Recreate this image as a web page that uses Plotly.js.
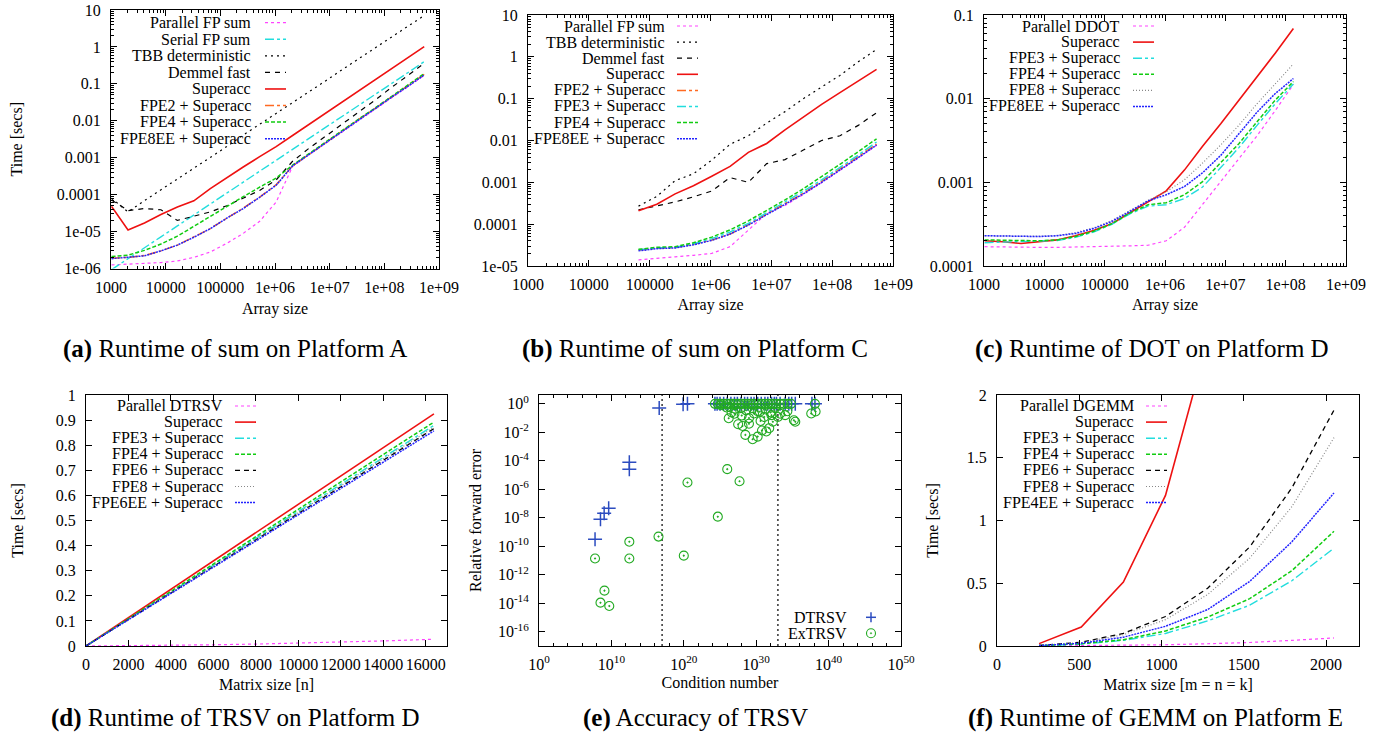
<!DOCTYPE html>
<html>
<head>
<meta charset="utf-8">
<script src="https://cdn.plot.ly/plotly-3.0.1.min.js"></script>
<style>
html,body{margin:0;padding:0;background:#fff;}
#chart{width:1394px;height:741px;}
</style>
</head>
<body>
<div id="chart"></div>
<script>
// ================= DATA =================
// (a) Runtime of sum on Platform A
const aSizes = [1024, 2048, 4096, 8192, 16384, 32768, 65536, 131072, 262144, 524288, 1048576, 2097152, 4194304, 8388608, 16777216, 33554432, 67108864, 134217728, 268435456, 536870912];
const aParallel = [1.25e-6, 1.3e-6, 1.35e-6, 1.45e-6, 1.6e-6, 2.0e-6, 2.8e-6, 4.8e-6, 8.9e-6, 1.9e-5, 6.3e-5, 5.8e-4, 1.2e-3, 2.45e-3, 5.0e-3, 1.03e-2, 2.05e-2, 4.2e-2, 8.4e-2, 0.17];
const aSerial = [9.3e-7, 1.87e-6, 3.7e-6, 7.2e-6, 1.42e-5, 2.8e-5, 5.6e-5, 1.1e-4, 2.2e-4, 4.3e-4, 8.5e-4, 1.7e-3, 3.4e-3, 6.6e-3, 1.3e-2, 2.6e-2, 5.1e-2, 0.10, 0.20, 0.40];
const aTBB = [8.0e-5, 3.4e-5, 6.9e-5, 1.35e-4, 2.7e-4, 5.3e-4, 1.05e-3, 2.0e-3, 4.1e-3, 8.0e-3, 1.6e-2, 3.1e-2, 6.2e-2, 0.12, 0.24, 0.47, 0.93, 1.8, 3.6, 7.1];
const aDemmel = [7.2e-5, 3.7e-5, 4.2e-5, 3.9e-5, 2.0e-5, 2.6e-5, 3.4e-5, 5.0e-5, 8.0e-5, 1.3e-4, 2.5e-4, 8.0e-4, 1.8e-3, 3.8e-3, 7.9e-3, 1.7e-2, 3.6e-2, 7.9e-2, 0.17, 0.36];
const aSuperacc = [4.8e-5, 1.1e-5, 1.7e-5, 2.9e-5, 4.6e-5, 6.8e-5, 1.45e-4, 2.9e-4, 5.6e-4, 1.07e-3, 2.0e-3, 4.0e-3, 8.0e-3, 1.6e-2, 3.2e-2, 6.3e-2, 0.126, 0.25, 0.5, 1.02];
const aFPE2 = [1.9e-6, 2.0e-6, 2.25e-6, 3.0e-6, 4.3e-6, 7.0e-6, 1.2e-5, 2.3e-5, 4.3e-5, 8.6e-5, 1.85e-4, 6.0e-4, 1.25e-3, 2.55e-3, 5.2e-3, 1.07e-2, 2.15e-2, 4.4e-2, 8.8e-2, 0.18];
const aFPE4 = [2.1e-6, 2.3e-6, 3.1e-6, 4.6e-6, 7.5e-6, 1.4e-5, 2.6e-5, 4.8e-5, 8.8e-5, 1.6e-4, 2.8e-4, 6.3e-4, 1.3e-3, 2.6e-3, 5.4e-3, 1.1e-2, 2.2e-2, 4.6e-2, 9.3e-2, 0.19];
const aFPE8EE = [1.85e-6, 2.0e-6, 2.2e-6, 3.0e-6, 4.3e-6, 7.0e-6, 1.2e-5, 2.3e-5, 4.2e-5, 8.5e-5, 1.8e-4, 6.0e-4, 1.23e-3, 2.5e-3, 5.1e-3, 1.05e-2, 2.1e-2, 4.3e-2, 8.5e-2, 0.174];

// (b) Runtime of sum on Platform C
const bSizes = [65536, 131072, 262144, 524288, 1048576, 2097152, 4194304, 8388608, 16777216, 33554432, 67108864, 134217728, 268435456, 536870912];
const bParallel = [1.4e-5, 1.5e-5, 1.65e-5, 1.8e-5, 2.0e-5, 2.9e-5, 7.2e-5, 1.8e-4, 2.8e-4, 5.1e-4, 9.8e-4, 1.9e-3, 3.8e-3, 7.7e-3];
const bTBB = [2.7e-4, 4.6e-4, 1.1e-3, 1.6e-3, 3.4e-3, 8.1e-3, 1.3e-2, 2.6e-2, 4.9e-2, 0.1, 0.19, 0.36, 0.76, 1.5];
const bDemmel = [2.2e-4, 2.7e-4, 3.4e-4, 4.5e-4, 6.2e-4, 1.3e-3, 1.0e-3, 2.8e-3, 3.5e-3, 5.9e-3, 1.0e-2, 1.3e-2, 2.3e-2, 4.6e-2];
const bSuperacc = [2.1e-4, 3.0e-4, 5.3e-4, 8.3e-4, 1.4e-3, 2.4e-3, 5.2e-3, 8.5e-3, 1.8e-2, 3.7e-2, 7.3e-2, 0.14, 0.26, 0.50];
const bFPE2 = [2.4e-5, 2.65e-5, 2.75e-5, 3.3e-5, 4.2e-5, 5.8e-5, 9.8e-5, 1.75e-4, 3.0e-4, 5.5e-4, 1.05e-3, 2.05e-3, 4.1e-3, 8.2e-3];
const bFPE3 = [2.45e-5, 2.7e-5, 2.8e-5, 3.4e-5, 4.5e-5, 6.5e-5, 1.05e-4, 1.9e-4, 3.3e-4, 6.1e-4, 1.15e-3, 2.25e-3, 4.5e-3, 9.2e-3];
const bFPE4 = [2.5e-5, 2.8e-5, 2.9e-5, 3.6e-5, 4.9e-5, 7.3e-5, 1.2e-4, 2.1e-4, 3.8e-4, 7.0e-4, 1.35e-3, 2.7e-3, 5.4e-3, 1.1e-2];
const bFPE8EE = [2.3e-5, 2.6e-5, 2.7e-5, 3.2e-5, 4.1e-5, 5.8e-5, 9.5e-5, 1.7e-4, 2.9e-4, 5.3e-4, 1.0e-3, 1.95e-3, 3.9e-3, 7.8e-3];

// (c) Runtime of DOT on Platform D
const cSizes = [1024, 2048, 4096, 8192, 16384, 32768, 65536, 131072, 262144, 524288, 1048576, 2097152, 4194304, 8388608, 16777216, 33554432, 67108864, 134217728];
const cParallel = [1.7e-4, 1.68e-4, 1.67e-4, 1.67e-4, 1.67e-4, 1.68e-4, 1.7e-4, 1.72e-4, 1.74e-4, 1.77e-4, 2.0e-4, 2.9e-4, 5.4e-4, 1.02e-3, 1.9e-3, 3.6e-3, 7.2e-3, 1.48e-2];
const cSuperacc = [2.0e-4, 1.95e-4, 1.86e-4, 1.95e-4, 2.05e-4, 2.3e-4, 2.65e-4, 3.2e-4, 4.3e-4, 5.9e-4, 7.9e-4, 1.4e-3, 2.7e-3, 5.0e-3, 9.5e-3, 1.8e-2, 3.5e-2, 6.9e-2];
const cFPE3 = [1.9e-4, 1.92e-4, 1.95e-4, 1.97e-4, 2.02e-4, 2.2e-4, 2.55e-4, 3.15e-4, 4.2e-4, 5.2e-4, 5.4e-4, 6.4e-4, 8.8e-4, 1.5e-3, 2.6e-3, 4.8e-3, 8.7e-3, 1.5e-2];
const cFPE4 = [2.05e-4, 2.02e-4, 2.0e-4, 2.0e-4, 2.05e-4, 2.25e-4, 2.6e-4, 3.2e-4, 4.3e-4, 5.4e-4, 5.7e-4, 7.1e-4, 1.02e-3, 1.7e-3, 2.9e-3, 5.3e-3, 9.6e-3, 1.6e-2];
const cFPE8 = [2.3e-4, 2.28e-4, 2.25e-4, 2.27e-4, 2.32e-4, 2.5e-4, 2.85e-4, 3.5e-4, 4.6e-4, 6.1e-4, 7.7e-4, 1.07e-3, 1.7e-3, 2.8e-3, 4.8e-3, 8.7e-3, 1.5e-2, 2.6e-2];
const cFPE8EE = [2.3e-4, 2.28e-4, 2.25e-4, 2.25e-4, 2.3e-4, 2.45e-4, 2.8e-4, 3.4e-4, 4.5e-4, 6.0e-4, 7.1e-4, 8.9e-4, 1.3e-3, 2.1e-3, 3.8e-3, 6.9e-3, 1.15e-2, 1.74e-2];

// (d) Runtime of TRSV on Platform D
const dSizes = [0, 2048, 4096, 6144, 8192, 10240, 12288, 14336, 16384];
const dParallel = [0, 0.001, 0.003, 0.005, 0.008, 0.012, 0.016, 0.021, 0.027];
const dSuperacc = [0, 0.116, 0.231, 0.347, 0.463, 0.578, 0.694, 0.810, 0.925];
const dFPE3 = [0, 0.110, 0.220, 0.330, 0.440, 0.549, 0.659, 0.769, 0.879];
const dFPE4 = [0, 0.112, 0.223, 0.335, 0.446, 0.558, 0.669, 0.781, 0.892];
const dFPE6 = [0, 0.108, 0.217, 0.325, 0.433, 0.541, 0.650, 0.758, 0.866];
const dFPE8 = [0, 0.109, 0.218, 0.327, 0.436, 0.545, 0.654, 0.763, 0.872];
const dFPE6EE = [0, 0.107, 0.214, 0.321, 0.428, 0.536, 0.643, 0.750, 0.857];

// (e) Accuracy of TRSV
const eDtrsvCond = [5.5e7, 3.1e8, 1.0e9, 4.2e9, 3.0e12, 3.0e12, 4.0e16, 8.0e19, 3.2e20, 2.0e24, 4.0e24, 1.0e25, 3.2e25, 1.0e26, 3.2e26, 1.0e27, 2.5e27, 8.0e27, 2.5e28, 6.3e28, 2.0e29, 5.0e29, 1.6e30, 5.0e30, 1.6e31, 4.0e31, 1.3e32, 3.2e32, 6.3e32, 2.0e33, 1.0e34, 3.2e34, 8.0e34, 2.5e35, 5.0e37, 1.3e38];
const eDtrsvErr = [3.1e-10, 7.9e-9, 2.1e-8, 4.7e-8, 7.9e-5, 2.6e-5, 0.5, 0.95, 1.0, 1.0, 1.0, 1.0, 1.0, 1.0, 1.0, 1.0, 1.0, 1.0, 1.0, 1.0, 1.0, 1.0, 1.0, 1.0, 1.0, 1.0, 1.0, 1.0, 1.0, 1.0, 1.0, 1.0, 1.0, 1.0, 1.0, 1.0];
const eExCond = [5.5e7, 1.1e9, 3.1e8, 5.1e9, 3.0e12, 3.0e12, 3.2e16, 1.0e20, 3.2e20, 5.0e24, 1.0e26, 5.0e27,
  2e24, 5e24, 1.3e25, 3.2e25, 8e25, 2e26, 6.3e26, 1.6e27, 4e27, 1e28, 2.5e28, 6.3e28, 1.6e29, 4e29, 1e30, 2.5e30, 6.3e30, 1.6e31, 4e31, 1e32, 2.5e32, 6.3e32, 2e33, 6.3e33, 2e34, 6.3e34, 1.3e38,
  1.3e25, 8e25, 2e26, 4e26, 1.3e27, 8e27, 4e28, 1e29, 3.2e29, 5e29, 1.6e30, 3.2e30, 4e30, 1.3e31, 2e31, 2.5e31, 6.3e31, 1e32, 1.3e32, 2e32, 4e32, 1e33, 2e33, 1e34, 2e34, 1.6e35, 2.5e35, 4e37, 1.6e38,
  1.6e26, 3.2e27, 1.3e28, 3.2e28, 3.2e29, 1.6e30, 6.3e30, 1e29, 1e28, 1e27];
const eExErr = [1.4e-11, 7.7e-14, 1.1e-14, 6.4e-15, 2.1e-10, 1.4e-11, 4.8e-10, 2.2e-11, 3.0e-6, 1.2e-8, 2.6e-5, 3.7e-6,
  1, 1, 1, 1, 1, 1, 1, 1, 1, 1, 1, 1, 1, 1, 1, 1, 1, 1, 1, 1, 1, 1, 1, 1, 1, 1, 1,
  0.8, 0.55, 0.6, 0.25, 0.45, 0.5, 0.35, 0.1, 0.5, 0.21, 0.3, 0.28, 0.063, 0.12, 0.4, 0.0115, 0.0195, 0.25, 0.16, 0.055, 0.5, 0.12, 0.2, 0.16, 0.3, 0.07, 0.055, 0.21, 0.29,
  0.098, 0.037, 0.028, 0.0066, 0.0033, 0.005, 0.0135, 0.04, 0.15, 0.2];
const eThresholds = [1e17, 1e33];

// (f) Runtime of GEMM on Platform E
const fSizes = [256, 512, 768, 1024, 1280, 1536, 1792, 2048];
const fParallel = [0.0005, 0.002, 0.005, 0.010, 0.018, 0.028, 0.045, 0.064];
const fSuperacc = [0.019, 0.151, 0.51, 1.20, 2.43];
const fFPE3 = [0.002, 0.015, 0.045, 0.10, 0.20, 0.325, 0.52, 0.78];
const fFPE4 = [0.003, 0.018, 0.05, 0.12, 0.23, 0.377, 0.60, 0.914];
const fFPE6 = [0.004, 0.03, 0.10, 0.235, 0.46, 0.79, 1.26, 1.88];
const fFPE8 = [0.004, 0.027, 0.09, 0.21, 0.41, 0.70, 1.11, 1.66];
const fFPE4EE = [0.003, 0.022, 0.07, 0.157, 0.29, 0.515, 0.83, 1.22];

// tick labels
const sizeTickVals = [1e3, 1e4, 1e5, 1e6, 1e7, 1e8, 1e9];
const sizeTickText = ['1000', '10000', '100000', '1e+06', '1e+07', '1e+08', '1e+09'];
const aTimeTickVals = [1e-6, 1e-5, 1e-4, 1e-3, 1e-2, 1e-1, 1, 10];
const aTimeTickText = ['1e-06', '1e-05', '0.0001', '0.001', '0.01', '0.1', '1', '10'];
const bTimeTickVals = [1e-5, 1e-4, 1e-3, 1e-2, 1e-1, 1, 10];
const bTimeTickText = ['1e-05', '0.0001', '0.001', '0.01', '0.1', '1', '10'];
const cTimeTickVals = [1e-4, 1e-3, 1e-2, 1e-1];
const cTimeTickText = ['0.0001', '0.001', '0.01', '0.1'];
const eCondTickVals = [1, 1e10, 1e20, 1e30, 1e40, 1e50];
const eCondTickText = ['10<sup>0</sup>', '10<sup>10</sup>', '10<sup>20</sup>', '10<sup>30</sup>', '10<sup>40</sup>', '10<sup>50</sup>'];
const eErrTickVals = [1e-16, 1e-14, 1e-12, 1e-10, 1e-8, 1e-6, 1e-4, 1e-2, 1];
const eErrTickText = ['10<sup>-16</sup>', '10<sup>-14</sup>', '10<sup>-12</sup>', '10<sup>-10</sup>', '10<sup>-8</sup>', '10<sup>-6</sup>', '10<sup>-4</sup>', '10<sup>-2</sup>', '10<sup>0</sup>'];
const eYRange = [-17, 0.62];

// ================= STYLE / LAYOUT =================
const W = 1394, H = 741;
const fx = p => p / W;
const fy = p => 1 - p / H;
const FONT = 'Liberation Serif';

const ST = {
  parallel: {color: '#ff44ff', width: 1.2, dash: 'dot'},
  serial:   {color: '#22dddd', width: 1.4, dash: 'dashdot'},
  tbb:      {color: '#000000', width: 1.2, dash: '2px,4px'},
  demmel:   {color: '#000000', width: 1.2, dash: '5px,5px'},
  superacc: {color: '#ee1111', width: 1.6, dash: 'solid'},
  fpe2:     {color: '#ff6a22', width: 1.5, dash: 'dashdot'},
  fpe3:     {color: '#22dddd', width: 1.4, dash: 'dashdot'},
  fpe4:     {color: '#11cc11', width: 1.5, dash: '4px,2px'},
  fpe6:     {color: '#000000', width: 1.3, dash: '5px,4px'},
  fpe8:     {color: '#888888', width: 1.2, dash: '1px,2px'},
  ee:       {color: '#2222ff', width: 1.5, dash: '2px,1px'}
};

const traces = [];
function addLine(n, name, x, y, st) {
  const s = n > 1 ? String(n) : '';
  traces.push({type: 'scatter', mode: 'lines', name: name, x: x, y: y,
    xaxis: 'x' + s, yaxis: 'y' + s, showlegend: false, hoverinfo: 'skip',
    line: {color: st.color, width: st.width, dash: st.dash}});
}

// (a)
const legA = [
  ['Parallel FP sum', aParallel, ST.parallel], ['Serial FP sum', aSerial, ST.serial],
  ['TBB deterministic', aTBB, ST.tbb], ['Demmel fast', aDemmel, ST.demmel],
  ['Superacc', aSuperacc, ST.superacc], ['FPE2 + Superacc', aFPE2, ST.fpe2],
  ['FPE4 + Superacc', aFPE4, ST.fpe4], ['FPE8EE + Superacc', aFPE8EE, ST.ee]];
legA.forEach(e => addLine(1, e[0], aSizes, e[1], e[2]));
// (b)
const legB = [
  ['Parallel FP sum', bParallel, ST.parallel], ['TBB deterministic', bTBB, ST.tbb],
  ['Demmel fast', bDemmel, ST.demmel], ['Superacc', bSuperacc, ST.superacc],
  ['FPE2 + Superacc', bFPE2, ST.fpe2], ['FPE3 + Superacc', bFPE3, ST.fpe3],
  ['FPE4 + Superacc', bFPE4, ST.fpe4], ['FPE8EE + Superacc', bFPE8EE, ST.ee]];
legB.forEach(e => addLine(2, e[0], bSizes, e[1], e[2]));
// (c)
const legC = [
  ['Parallel DDOT', cParallel, ST.parallel], ['Superacc', cSuperacc, ST.superacc],
  ['FPE3 + Superacc', cFPE3, ST.fpe3], ['FPE4 + Superacc', cFPE4, ST.fpe4],
  ['FPE8 + Superacc', cFPE8, ST.fpe8], ['FPE8EE + Superacc', cFPE8EE, ST.ee]];
legC.forEach(e => addLine(3, e[0], cSizes, e[1], e[2]));
// (d)
const legD = [
  ['Parallel DTRSV', dParallel, ST.parallel], ['Superacc', dSuperacc, ST.superacc],
  ['FPE3 + Superacc', dFPE3, ST.fpe3], ['FPE4 + Superacc', dFPE4, ST.fpe4],
  ['FPE6 + Superacc', dFPE6, ST.fpe6], ['FPE8 + Superacc', dFPE8, ST.fpe8],
  ['FPE6EE + Superacc', dFPE6EE, ST.ee]];
legD.forEach(e => addLine(4, e[0], dSizes, e[1], e[2]));
// (e)
eThresholds.forEach(t => traces.push({type: 'scatter', mode: 'lines', x: [t, t],
  y: [Math.pow(10, eYRange[0]), Math.pow(10, eYRange[1])], xaxis: 'x5', yaxis: 'y5',
  showlegend: false, hoverinfo: 'skip', line: {color: '#000', width: 1.2, dash: '2px,3px'}}));
traces.push({type: 'scatter', mode: 'markers', name: 'DTRSV', x: eDtrsvCond, y: eDtrsvErr,
  xaxis: 'x5', yaxis: 'y5', showlegend: false, hoverinfo: 'skip',
  marker: {symbol: 'cross-thin', size: 10, color: '#2c4cc0', line: {color: '#2c4cc0', width: 1.5}}});
traces.push({type: 'scatter', mode: 'markers', name: 'ExTRSV', x: eExCond, y: eExErr,
  xaxis: 'x5', yaxis: 'y5', showlegend: false, hoverinfo: 'skip',
  marker: {symbol: 'circle-open-dot', size: 9, color: '#22aa22', line: {color: '#22aa22', width: 1.1}}});
// (f)
const legF = [
  ['Parallel DGEMM', fParallel, ST.parallel], ['Superacc', fSuperacc, ST.superacc],
  ['FPE3 + Superacc', fFPE3, ST.fpe3], ['FPE4 + Superacc', fFPE4, ST.fpe4],
  ['FPE6 + Superacc', fFPE6, ST.fpe6], ['FPE8 + Superacc', fFPE8, ST.fpe8],
  ['FPE4EE + Superacc', fFPE4EE, ST.ee]];
legF.forEach(e => addLine(6, e[0], fSizes.slice(0, e[1].length), e[1], e[2]));

// axes
const minorLog = {ticks: 'inside', ticklen: 3, tickcolor: '#000', dtick: 'D1', showgrid: false};
function axis(opts, titleText, standoff) {
  const a = {
    showline: true, linecolor: '#000', linewidth: 1, mirror: 'allticks',
    ticks: 'inside', ticklen: 6, tickwidth: 1, tickcolor: '#000',
    showgrid: false, zeroline: false, fixedrange: true, automargin: false,
    tickfont: {family: FONT, size: 16, color: '#000'}
  };
  Object.assign(a, opts);
  if (titleText) a.title = {text: titleText, standoff: standoff, font: {family: FONT, size: 16, color: '#000'}};
  return a;
}

const layout = {
  width: W, height: H, margin: {l: 0, r: 0, t: 0, b: 0},
  paper_bgcolor: '#fff', plot_bgcolor: '#fff', showlegend: false,
  font: {family: FONT, size: 16, color: '#000'},
  xaxis: axis({domain: [fx(111), fx(439)], anchor: 'y', type: 'log', range: [3, 9], tickmode: 'array', tickvals: sizeTickVals, ticktext: sizeTickText, minor: minorLog, ticklabelstandoff: 4}, 'Array size', 8),
  yaxis: axis({domain: [fy(268.5), fy(10)], anchor: 'x', type: 'log', range: [-6, 1], tickmode: 'array', tickvals: aTimeTickVals, ticktext: aTimeTickText, minor: minorLog, ticklabelstandoff: 6}, 'Time [secs]', 30),
  xaxis2: axis({domain: [fx(528), fx(893)], anchor: 'y2', type: 'log', range: [3, 9], tickmode: 'array', tickvals: sizeTickVals, ticktext: sizeTickText, minor: minorLog, ticklabelstandoff: 4}, 'Array size', 6),
  yaxis2: axis({domain: [fy(266), fy(15)], anchor: 'x2', type: 'log', range: [-5, 1], tickmode: 'array', tickvals: bTimeTickVals, ticktext: bTimeTickText, minor: minorLog, ticklabelstandoff: 6}),
  xaxis3: axis({domain: [fx(984), fx(1346)], anchor: 'y3', type: 'log', range: [3, 9], tickmode: 'array', tickvals: sizeTickVals, ticktext: sizeTickText, minor: minorLog, ticklabelstandoff: 4}, 'Array size', 6),
  yaxis3: axis({domain: [fy(266), fy(15)], anchor: 'x3', type: 'log', range: [-4, -1], tickmode: 'array', tickvals: cTimeTickVals, ticktext: cTimeTickText, minor: minorLog, ticklabelstandoff: 6}),
  xaxis4: axis({domain: [fx(86), fx(447)], anchor: 'y4', range: [0, 17000], dtick: 2000, tick0: 0, tickformat: 'd', ticklabelstandoff: 4}, 'Matrix size [n]', 6),
  yaxis4: axis({domain: [fy(646), fy(395)], anchor: 'x4', range: [0, 1], dtick: 0.1, tick0: 0, ticklabelstandoff: 6}, 'Time [secs]', 28),
  xaxis5: axis({domain: [fx(539), fx(901)], anchor: 'y5', type: 'log', range: [0, 50], tickmode: 'array', tickvals: eCondTickVals, ticktext: eCondTickText, minor: {ticks: 'inside', ticklen: 3, tickcolor: '#000', dtick: 2, showgrid: false}, ticklabelstandoff: 4}, 'Condition number', 4),
  yaxis5: axis({domain: [fy(646), fy(395)], anchor: 'x5', type: 'log', range: eYRange, tickmode: 'array', tickvals: eErrTickVals, ticktext: eErrTickText, ticklabelstandoff: 6}, 'Relative forward error', 12),
  xaxis6: axis({domain: [fx(997), fx(1359)], anchor: 'y6', range: [0, 2200], dtick: 500, tick0: 0, tickformat: 'd', ticklabelstandoff: 4}, 'Matrix size [m = n = k]', 6),
  yaxis6: axis({domain: [fy(646), fy(395)], anchor: 'x6', range: [0, 2], dtick: 0.5, tick0: 0, ticklabelstandoff: 6}, 'Time [secs]', 24),
  annotations: [],
  shapes: []
};

// gnuplot-style keys: right-aligned text, sample line to the right
function key(entries, textRight, s0, s1, yTop, dy) {
  entries.forEach((e, i) => {
    const y = yTop + i * dy;
    layout.annotations.push({xref: 'paper', yref: 'paper', x: fx(textRight), y: fy(y),
      xanchor: 'right', yanchor: 'middle', showarrow: false, text: e[0],
      font: {family: FONT, size: 16, color: '#000'}});
    layout.shapes.push({type: 'line', xref: 'paper', yref: 'paper',
      x0: fx(s0), x1: fx(s1), y0: fy(y), y1: fy(y),
      line: {color: e[2].color, width: e[2].width, dash: e[2].dash}});
  });
}
key(legA, 253, 265, 286, 22.7, 16.57);
key(legB, 667, 677, 698, 26, 16.1);
key(legC, 1122, 1133, 1154, 26, 16.1);
key(legD, 224.5, 235, 256, 406, 16.1);
key(legF, 1136, 1146, 1167, 406, 16.1);

// key of (e)
[['DTRSV', 617.3], ['ExTRSV', 633.3]].forEach(k => layout.annotations.push({xref: 'paper', yref: 'paper',
  x: fx(849), y: fy(k[1]), xanchor: 'right', yanchor: 'middle', showarrow: false, text: k[0],
  font: {family: FONT, size: 16, color: '#000'}}));
layout.shapes.push({type: 'line', xref: 'paper', yref: 'paper', x0: fx(866), x1: fx(876), y0: fy(617.3), y1: fy(617.3), line: {color: '#2c4cc0', width: 1.5}});
layout.shapes.push({type: 'line', xref: 'paper', yref: 'paper', x0: fx(871), x1: fx(871), y0: fy(612.3), y1: fy(622.3), line: {color: '#2c4cc0', width: 1.5}});
layout.shapes.push({type: 'circle', xref: 'paper', yref: 'paper', x0: fx(866.5), x1: fx(875.5), y0: fy(628.8), y1: fy(637.8), line: {color: '#22aa22', width: 1.1}});
layout.shapes.push({type: 'circle', xref: 'paper', yref: 'paper', x0: fx(870.3), x1: fx(871.7), y0: fy(632.6), y1: fy(634.0), fillcolor: '#22aa22', line: {color: '#22aa22', width: 0.5}});

// sub-figure captions
const captions = [
  ['(a)', 'Runtime of sum on Platform A', 235, 349],
  ['(b)', 'Runtime of sum on Platform C', 695, 349],
  ['(c)', 'Runtime of DOT on Platform D', 1152, 349],
  ['(d)', 'Runtime of TRSV on Platform D', 235, 718],
  ['(e)', 'Accuracy of TRSV', 695, 718],
  ['(f)', 'Runtime of GEMM on Platform E', 1155, 718]];
captions.forEach(c => layout.annotations.push({xref: 'paper', yref: 'paper', x: fx(c[2]), y: fy(c[3]),
  xanchor: 'center', yanchor: 'middle', showarrow: false, text: '<b>' + c[0] + '</b> ' + c[1],
  font: {family: FONT, size: 25, color: '#000'}}));

Plotly.newPlot('chart', traces, layout, {displayModeBar: false, staticPlot: true});
</script>
</body>
</html>
